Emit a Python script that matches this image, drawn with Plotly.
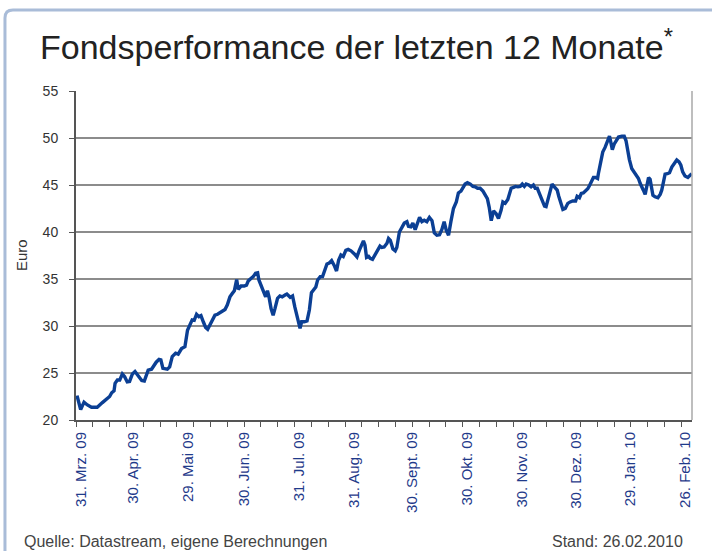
import plotly.graph_objects as go

# ---- data (trading-day index, fund price in Euro) ----
day = [0.4, 1.8, 3.1, 4.4, 6.0, 7.6, 8.2, 10.2, 12.1, 13.0, 13.8, 14.7, 15.1, 16.0, 16.9, 17.9, 18.8, 19.8, 20.7, 21.8,
       22.8, 24.0, 25.4, 26.4, 27.2, 27.9, 29.2, 30.1, 31.0, 32.1, 32.8, 33.6, 35.3, 36.2, 37.2, 38.5, 39.5, 40.8, 42.1, 43.1,
       44.1, 44.9, 45.7, 46.6, 47.5, 48.3, 49.2, 50.1, 50.9, 51.8, 52.7, 53.7, 54.7, 55.6, 56.5, 57.6, 58.5, 59.5, 60.4, 61.2,
       62.1, 62.7, 63.8, 65.0, 65.9, 66.6, 67.6, 68.5, 69.4, 70.2, 70.7, 71.7, 72.8, 73.3, 74.0, 74.6, 75.4, 76.2, 76.9, 77.9,
       78.8, 79.7, 80.8, 81.5, 82.8, 83.7, 84.6, 85.6, 86.6, 87.2, 88.2, 89.3, 90.2, 91.0, 92.1, 92.7, 93.4, 94.4, 95.3, 96.2,
       97.0, 97.9, 98.8, 99.8, 100.7, 101.5, 102.4, 103.3, 104.3, 105.2, 106.3, 107.5, 108.6, 109.5, 110.4, 111.1, 111.7, 112.3, 113.1, 113.7,
       114.6, 115.5, 116.5, 117.5, 118.2, 119.1, 120.2, 120.8, 121.5, 122.5, 123.4, 124.0, 125.0, 126.0, 126.9, 127.9, 128.5, 129.4, 130.2, 131.1,
       131.8, 132.8, 133.7, 134.6, 135.6, 136.6, 137.6, 138.5, 139.5, 140.5, 141.4, 142.3, 143.1, 144.0, 144.9, 145.9, 147.0, 147.8, 148.8, 149.5,
       150.4, 151.3, 152.4, 153.4, 154.3, 155.2, 156.2, 157.3, 158.2, 159.0, 159.7, 160.5, 161.4, 162.4, 163.3, 164.3, 165.0, 165.9, 166.9, 167.5,
       168.2, 169.1, 169.9, 170.8, 171.7, 172.5, 173.3, 174.0, 175.0, 175.9, 176.8, 177.5, 178.3, 179.1, 180.2, 181.1, 181.7, 182.6, 183.4, 184.0,
       184.9, 186.0, 186.6, 187.5, 188.2, 189.1, 190.1, 191.0, 192.0, 193.1, 193.7, 194.6, 195.3, 196.1, 196.9, 197.8, 198.5, 199.4, 200.0, 200.8,
       201.6, 201.9, 202.9, 203.6, 204.5, 205.4, 206.2, 206.8, 207.3, 208.0, 208.8, 209.7, 211.0, 211.9, 212.6, 213.1, 213.9, 214.8, 215.7, 216.5,
       217.4, 218.1, 218.7, 219.3, 220.0, 220.6, 221.3, 221.9, 222.3, 223.0, 223.8, 224.9, 225.8, 226.4, 227.1, 227.7, 228.6, 229.4, 230.3, 231.2,
       232.2, 233.1, 233.8, 234.5, 235.4, 236.5, 237.4, 238.0]

euro = [22.6, 21.1, 21.9, 21.6, 21.35, 21.4, 21.35, 21.85, 22.3, 22.5, 22.9, 23.1, 23.9, 24.25, 24.25, 24.9, 24.6, 24.05, 24.1, 24.9,
        25.15, 24.7, 24.2, 24.15, 24.8, 25.3, 25.4, 25.85, 26.15, 26.45, 26.4, 25.5, 25.4, 25.65, 26.75, 27.1, 27.0, 27.6, 27.8, 29.55,
        30.1, 30.65, 30.6, 31.25, 31.0, 31.1, 30.45, 29.85, 29.65, 30.1, 30.7, 31.15, 31.25, 31.4, 31.6, 31.75, 32.25, 33.1, 33.45, 33.75,
        34.95, 33.9, 34.25, 34.25, 34.35, 34.8, 35.05, 35.25, 35.6, 35.65, 34.9, 34.15, 33.55, 33.1, 33.75, 33.1, 31.85, 31.15, 31.85, 32.95,
        33.2, 33.1, 33.3, 33.4, 33.05, 33.2, 32.0, 30.8, 29.75, 30.45, 30.45, 30.55, 31.7, 33.55, 34.0, 34.15, 34.9, 35.25, 35.25, 36.0,
        36.6, 36.7, 36.95, 36.45, 35.85, 37.0, 37.55, 37.4, 38.05, 38.15, 38.0, 37.7, 37.35, 38.05, 38.7, 39.05, 38.6, 37.3, 37.4, 37.2,
        37.1, 37.55, 37.9, 38.5, 38.35, 38.4, 38.8, 39.3, 39.1, 38.2, 38.0, 38.35, 40.0, 40.55, 40.95, 41.1, 40.6, 40.55, 40.95, 40.25,
        40.9, 41.55, 41.1, 41.25, 41.1, 41.55, 41.2, 39.9, 39.65, 39.7, 40.25, 41.1, 40.2, 39.65, 41.1, 42.5, 43.2, 44.15, 44.35, 44.65,
        45.1, 45.25, 45.1, 44.85, 44.8, 44.65, 44.65, 44.35, 44.0, 43.55, 42.65, 41.2, 42.25, 41.95, 41.45, 42.3, 43.2, 43.05, 43.45, 44.1,
        44.65, 44.75, 44.85, 44.8, 44.85, 45.1, 44.85, 45.1, 45.0, 44.8, 45.0, 44.65, 44.65, 44.1, 43.45, 42.75, 42.7, 43.55, 44.45, 45.1,
        44.8, 44.45, 43.8, 42.85, 42.4, 42.5, 43.05, 43.2, 43.3, 43.3, 43.8, 43.65, 44.1, 44.15, 44.35, 44.6, 44.95, 45.5, 45.8, 45.8,
        45.7, 46.2, 47.35, 48.5, 49.0, 49.6, 50.2, 49.45, 48.75, 49.35, 49.75, 50.1, 50.2, 50.2, 49.7, 48.75, 47.7, 46.75, 46.4, 46.15,
        45.7, 45.15, 44.85, 44.45, 44.0, 45.0, 45.8, 45.6, 44.8, 43.9, 43.75, 43.65, 44.0, 44.45, 45.35, 46.15, 46.2, 46.3, 46.9, 47.3,
        47.65, 47.45, 47.1, 46.4, 45.95, 45.8, 46.05, 46.2]

label_days = [2.05, 22.1, 43.4, 65.0, 86.3, 107.5, 130.0, 151.2, 172.5, 193.3, 214.2, 235.4]
label_text = ["31. Mrz. 09", "30. Apr. 09", "29. Mai 09", "30. Jun. 09", "31. Jul. 09", "31. Aug. 09",
              "30. Sept. 09", "30. Okt. 09", "30. Nov. 09", "30. Dez. 09", "29. Jan. 10", "26. Feb. 10"]
y_ticks = [20, 25, 30, 35, 40, 45, 50, 55]

title_text = "Fondsperformance der letzten 12 Monate<sup>*</sup>"
source_text = "Quelle: Datastream, eigene Berechnungen"
stand_text = "Stand: 26.02.2010"

FONT = "Liberation Sans, Arial, Helvetica, sans-serif"
x_max = 238.1
minor_step = 6.5

fig = go.Figure()
fig.add_trace(go.Scatter(x=day, y=euro, mode="lines",
                         line=dict(color="#0b3f94", width=3.4),
                         showlegend=False, hoverinfo="skip"))

fig.update_layout(
    width=712, height=551,
    margin=dict(l=76, r=20, t=91, b=131),
    paper_bgcolor="white", plot_bgcolor="white",
    font=dict(family=FONT, color="#333333"),
    xaxis=dict(
        range=[0, x_max], tickmode="array", tickvals=label_days, ticktext=label_text,
        tickangle=-90, ticks="", showgrid=False, zeroline=False,
        showline=True, linecolor="#555555", linewidth=2,
        tickfont=dict(family=FONT, size=15, color="#1f3a8a"),
        ticklabelstandoff=4,
        minor=dict(tickmode="array", tickvals=[i * minor_step for i in range(37)],
                   ticks="outside", ticklen=5, tickwidth=1.3, tickcolor="#555555", showgrid=False),
    ),
    yaxis=dict(
        range=[20, 55], tickmode="array", tickvals=y_ticks,
        showgrid=True, gridcolor="#8c8c8c", gridwidth=1.5, zeroline=False,
        showline=True, linecolor="#555555", linewidth=2,
        ticks="outside", ticklen=5, tickwidth=1.3, tickcolor="#555555",
        tickfont=dict(family=FONT, size=14, color="#333333"),
        ticklabelstandoff=8,
    ),
    shapes=[
        dict(type="line", xref="paper", yref="paper", x0=1, x1=1, y0=0, y1=1,
             line=dict(color="#a8a8a8", width=1.5)),
        dict(type="path", xref="paper", yref="paper",
             path="M -0.1153,-0.45 L -0.1153,1.2219 Q -0.1153,1.2462 -0.1023,1.2462 L 1.06,1.2462",
             line=dict(color="#a9bcd8", width=3)),
    ],
    annotations=[
        dict(text=title_text, xref="paper", yref="paper", x=-0.0617, y=1.1428,
             xanchor="left", yanchor="middle", showarrow=False,
             font=dict(family=FONT, size=34, color="#222222")),
        dict(text="Euro", xref="paper", yref="paper", x=-0.0893, y=0.5015,
             xanchor="center", yanchor="middle", textangle=-90, showarrow=False,
             font=dict(family=FONT, size=15, color="#333333")),
        dict(text=source_text, xref="paper", yref="paper", x=-0.0877, y=-0.3678,
             xanchor="left", yanchor="middle", showarrow=False,
             font=dict(family=FONT, size=16, color="#444444")),
        dict(text=stand_text, xref="paper", yref="paper", x=0.9886, y=-0.3678,
             xanchor="right", yanchor="middle", showarrow=False,
             font=dict(family=FONT, size=16, color="#444444")),
    ],
)

fig.write_html("out.html", config={"displayModeBar": False},
               post_script="document.body.style.margin='0px';")
